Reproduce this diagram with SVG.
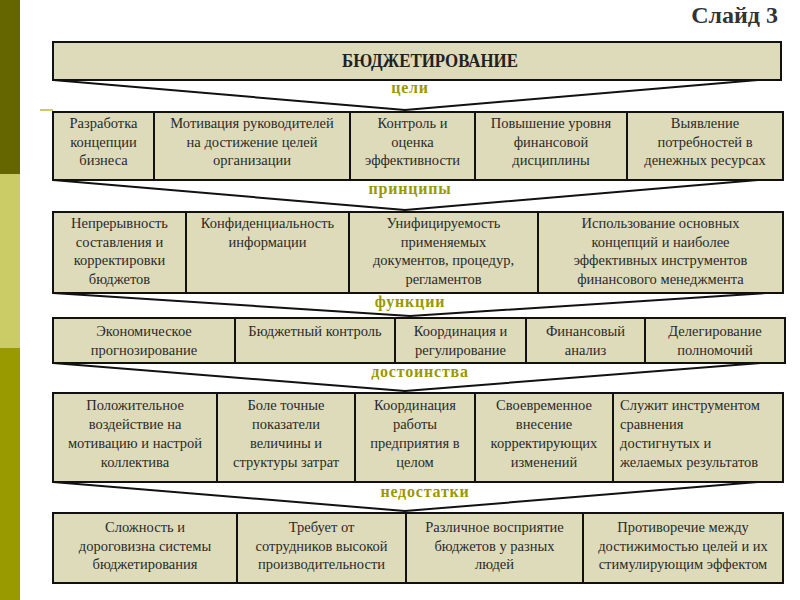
<svg xmlns="http://www.w3.org/2000/svg" width="800" height="600" viewBox="0 0 800 600">
<style>
.box{fill:#DEDBBA;stroke:#111;stroke-width:2}
.t{font-family:"Liberation Serif","Times New Roman",serif;font-size:14.5px;fill:#2a2a2a;text-anchor:middle}
.tl{text-anchor:start}
.lab{font-family:"Liberation Serif","Times New Roman",serif;font-size:16px;font-weight:bold;fill:#999900;text-anchor:middle;letter-spacing:0.8px}
.fun{fill:none;stroke:#111;stroke-width:2;stroke-linejoin:round}
</style>
<rect x="0" y="0" width="20" height="174" fill="#666600"/>
<rect x="0" y="174" width="20" height="174" fill="#CCCC66"/>
<rect x="0" y="348" width="20" height="252" fill="#999900"/>
<line x1="40" y1="110" x2="53" y2="110" stroke="#CCCC66" stroke-width="2"/>
<text x="778" y="23" font-family="Liberation Serif, serif" font-size="24" font-weight="bold" fill="#333" text-anchor="end">Слайд 3</text>

<g id="connectors">
<polyline class="fun" points="53,80 405,110 781,78"/>
<polyline class="fun" points="53,180 405,210 783,178"/>
<polyline class="fun" points="53,293 410,316 783,292"/>
<polyline class="fun" points="53,363 405,391 785,361"/>
<polyline class="fun" points="53,482 405,511 783,480"/>
</g>

<g id="header">
<rect class="box" x="53" y="42" width="728" height="38"/>
<text x="430" y="67" font-family="Liberation Serif, serif" font-size="18" font-weight="bold" fill="#222" text-anchor="middle" textLength="176" lengthAdjust="spacingAndGlyphs">БЮДЖЕТИРОВАНИЕ</text>
</g>

<g id="labels">
<text class="lab" x="410" y="93">цели</text>
<text class="lab" x="410" y="194">принципы</text>
<text class="lab" x="410" y="307">функции</text>
<text class="lab" x="420" y="377">достоинства</text>
<text class="lab" x="425" y="497">недостатки</text>
</g>

<g id="row1">
<g id="g1"><rect class="box" x="53" y="112" width="101" height="68"/><text class="t" x="103.5" y="128">Разработка<tspan x="103.5" dy="18.5">концепции</tspan><tspan x="103.5" dy="18.5">бизнеса</tspan></text></g>
<g id="g2"><rect class="box" x="154" y="112" width="196" height="68"/><text class="t" x="252" y="128">Мотивация руководителей<tspan x="252" dy="18.5">на достижение целей</tspan><tspan x="252" dy="18.5">организации</tspan></text></g>
<g id="g3"><rect class="box" x="350" y="112" width="125" height="68"/><text class="t" x="412.5" y="128">Контроль и<tspan x="412.5" dy="18.5">оценка</tspan><tspan x="412.5" dy="18.5">эффективности</tspan></text></g>
<g id="g4"><rect class="box" x="475" y="112" width="152" height="68"/><text class="t" x="551" y="128">Повышение уровня<tspan x="551" dy="18.5">финансовой</tspan><tspan x="551" dy="18.5">дисциплины</tspan></text></g>
<g id="g5"><rect class="box" x="627" y="112" width="156" height="68"/><text class="t" x="705" y="128">Выявление<tspan x="705" dy="18.5">потребностей в</tspan><tspan x="705" dy="18.5">денежных ресурсах</tspan></text></g>
</g>

<g id="row2">
<g id="p1"><rect class="box" x="53" y="212" width="133" height="81"/><text class="t" x="119.5" y="228">Непрерывность<tspan x="119.5" dy="18.5">составления и</tspan><tspan x="119.5" dy="18.5">корректировки</tspan><tspan x="119.5" dy="18.5">бюджетов</tspan></text></g>
<g id="p2"><rect class="box" x="186" y="212" width="163" height="81"/><text class="t" x="267.5" y="228">Конфиденциальность<tspan x="267.5" dy="18.5">информации</tspan></text></g>
<g id="p3"><rect class="box" x="349" y="212" width="189" height="81"/><text class="t" x="443.5" y="228">Унифицируемость<tspan x="443.5" dy="18.5">применяемых</tspan><tspan x="443.5" dy="18.5">документов, процедур,</tspan><tspan x="443.5" dy="18.5">регламентов</tspan></text></g>
<g id="p4"><rect class="box" x="538" y="212" width="245" height="81"/><text class="t" x="660.5" y="228">Использование основных<tspan x="660.5" dy="18.5">концепций и наиболее</tspan><tspan x="660.5" dy="18.5">эффективных инструментов</tspan><tspan x="660.5" dy="18.5">финансового менеджмента</tspan></text></g>
</g>

<g id="row3">
<g id="f1"><rect class="box" x="53" y="318" width="182" height="45"/><text class="t" x="144" y="336">Экономическое<tspan x="144" dy="18.5">прогнозирование</tspan></text></g>
<g id="f2"><rect class="box" x="235" y="318" width="160" height="45"/><text class="t" x="315" y="336">Бюджетный контроль</text></g>
<g id="f3"><rect class="box" x="395" y="318" width="131" height="45"/><text class="t" x="460.5" y="336">Координация и<tspan x="460.5" dy="18.5">регулирование</tspan></text></g>
<g id="f4"><rect class="box" x="526" y="318" width="119" height="45"/><text class="t" x="585.5" y="336">Финансовый<tspan x="585.5" dy="18.5">анализ</tspan></text></g>
<g id="f5"><rect class="box" x="645" y="318" width="140" height="45"/><text class="t" x="715" y="336">Делегирование<tspan x="715" dy="18.5">полномочий</tspan></text></g>
</g>

<g id="row4">
<g id="d1"><rect class="box" x="53" y="393" width="164" height="89"/><text class="t" x="135" y="410">Положительное<tspan x="135" dy="19">воздействие на</tspan><tspan x="135" dy="19">мотивацию и настрой</tspan><tspan x="135" dy="19">коллектива</tspan></text></g>
<g id="d2"><rect class="box" x="217" y="393" width="138" height="89"/><text class="t" x="286" y="410">Боле точные<tspan x="286" dy="19">показатели</tspan><tspan x="286" dy="19">величины и</tspan><tspan x="286" dy="19">структуры затрат</tspan></text></g>
<g id="d3"><rect class="box" x="355" y="393" width="120" height="89"/><text class="t" x="415" y="410">Координация<tspan x="415" dy="19">работы</tspan><tspan x="415" dy="19">предприятия в</tspan><tspan x="415" dy="19">целом</tspan></text></g>
<g id="d4"><rect class="box" x="475" y="393" width="138" height="89"/><text class="t" x="544" y="410">Своевременное<tspan x="544" dy="19">внесение</tspan><tspan x="544" dy="19">корректирующих</tspan><tspan x="544" dy="19">изменений</tspan></text></g>
<g id="d5"><rect class="box" x="613" y="393" width="170" height="89"/><text class="t tl" x="620" y="410">Служит инструментом<tspan x="620" dy="19">сравнения</tspan><tspan x="620" dy="19">достигнутых и</tspan><tspan x="620" dy="19">желаемых результатов</tspan></text></g>
</g>

<g id="row5">
<g id="n1"><rect class="box" x="53" y="513" width="184" height="70"/><text class="t" x="145" y="532">Сложность и<tspan x="145" dy="18.5">дороговизна системы</tspan><tspan x="145" dy="18.5">бюджетирования</tspan></text></g>
<g id="n2"><rect class="box" x="237" y="513" width="169" height="70"/><text class="t" x="321.5" y="532">Требует от<tspan x="321.5" dy="18.5">сотрудников высокой</tspan><tspan x="321.5" dy="18.5">производительности</tspan></text></g>
<g id="n3"><rect class="box" x="406" y="513" width="177" height="70"/><text class="t" x="494.5" y="532">Различное восприятие<tspan x="494.5" dy="18.5">бюджетов у разных</tspan><tspan x="494.5" dy="18.5">людей</tspan></text></g>
<g id="n4"><rect class="box" x="583" y="513" width="200" height="70"/><text class="t" x="683" y="532">Противоречие между<tspan x="683" dy="18.5">достижимостью целей и их</tspan><tspan x="683" dy="18.5">стимулирующим эффектом</tspan></text></g>
</g>
</svg>
